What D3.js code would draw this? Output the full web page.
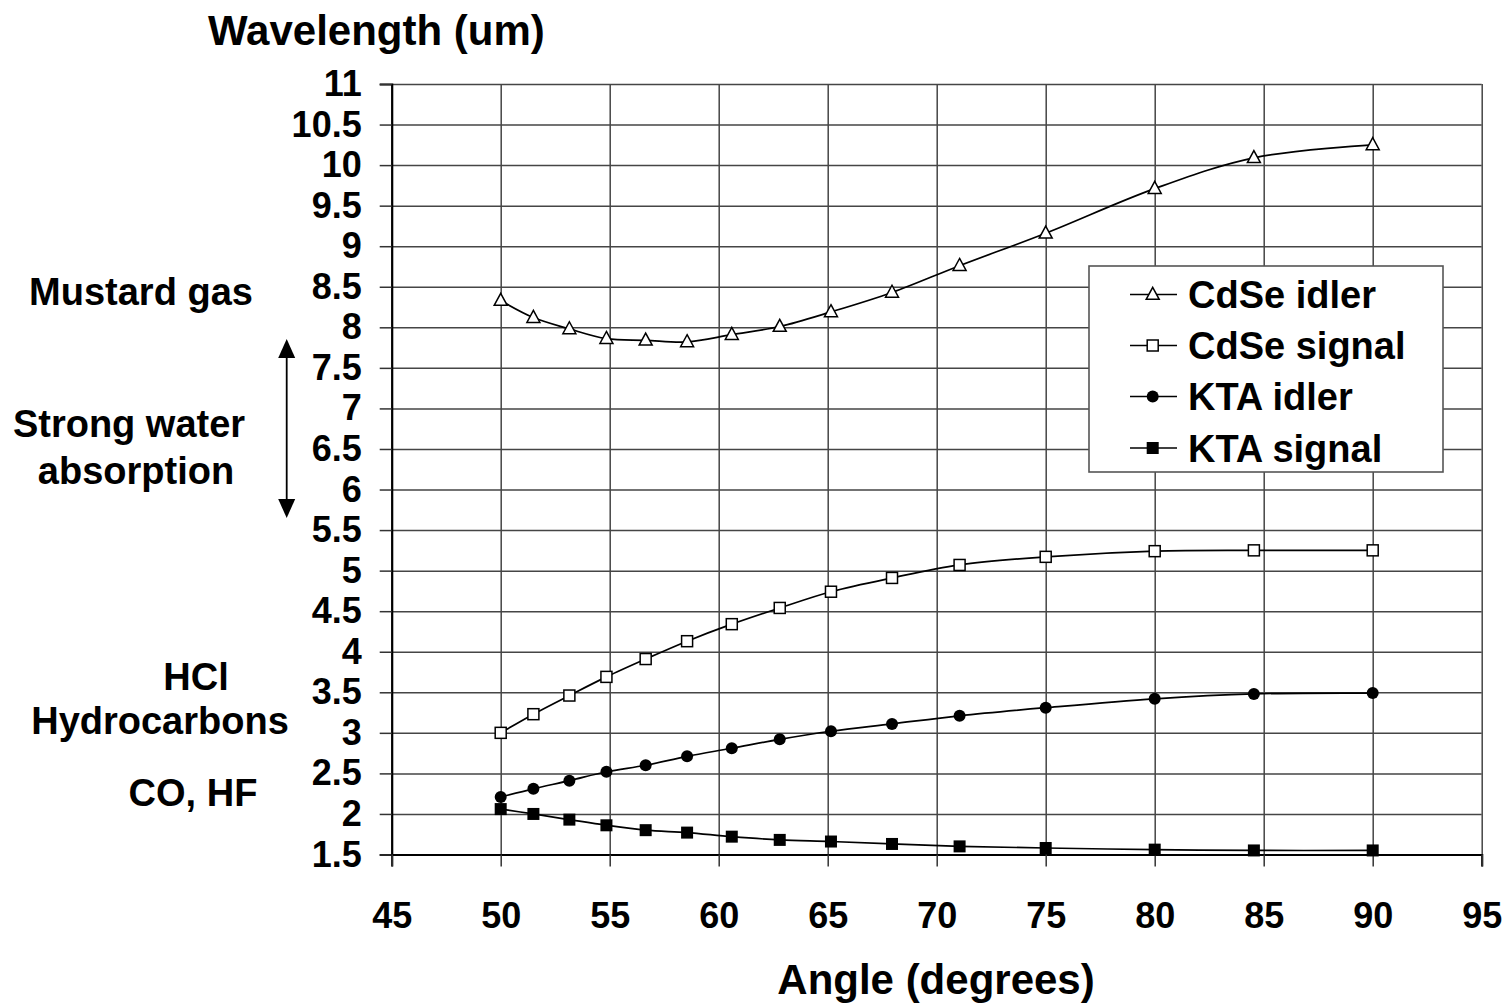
<!DOCTYPE html>
<html>
<head>
<meta charset="utf-8">
<script src="https://cdn.jsdelivr.net/npm/d3@7"></script>
<style>
  html, body { margin: 0; padding: 0; background: #fff; }
  svg { display: block; font-family: "Liberation Sans", Arial, Helvetica, sans-serif; font-weight: bold; }
</style>
</head>
<body>
<svg id="chart" width="1503" height="1003"></svg>
<script>
// Phase-matching angle (degrees)
const angles = [50, 51.5, 53.15, 54.85, 56.65, 58.55, 60.6, 62.8, 65.15, 67.95, 71.05, 75, 80, 84.55, 90];

// Output wavelengths (um)
const cdseIdler  = [8.33, 8.12, 7.98, 7.86, 7.84, 7.82, 7.91, 8.01, 8.19, 8.43, 8.76, 9.16, 9.71, 10.09, 10.25];
const cdseSignal = [3.00, 3.23, 3.46, 3.69, 3.91, 4.13, 4.34, 4.54, 4.74, 4.91, 5.07, 5.17, 5.24, 5.25, 5.25];
const ktaIdler   = [2.21, 2.31, 2.41, 2.52, 2.60, 2.71, 2.81, 2.92, 3.02, 3.11, 3.21, 3.31, 3.42, 3.48, 3.49];
const ktaSignal  = [2.06, 2.00, 1.93, 1.86, 1.80, 1.77, 1.72, 1.68, 1.66, 1.63, 1.60, 1.58, 1.56, 1.55, 1.55];

const seriesNames = ["CdSe idler", "CdSe signal", "KTA idler", "KTA signal"];
const seriesMarkers = ["triangle-open", "square-open", "circle", "square"];

// Axis ticks
const xTicks = [45, 50, 55, 60, 65, 70, 75, 80, 85, 90, 95];
const yTicks = [1.5, 2, 2.5, 3, 3.5, 4, 4.5, 5, 5.5, 6, 6.5, 7, 7.5, 8, 8.5, 9, 9.5, 10, 10.5, 11];

// Absorption-band annotations on the left
const bandLabels = [
  { text: "Mustard gas", x: 141, y: 305 },
  { text: "Strong water", x: 129, y: 437 },
  { text: "absorption", x: 136, y: 484 },
  { text: "HCl", x: 196, y: 690 },
  { text: "Hydrocarbons", x: 160, y: 734 },
  { text: "CO, HF", x: 193, y: 806 }
];

const seriesValues = [cdseIdler, cdseSignal, ktaIdler, ktaSignal];
const series = seriesNames.map((name, i) => ({
  name,
  marker: seriesMarkers[i],
  points: angles.map((a, j) => ({ x: a, y: seriesValues[i][j] }))
}));

const svg = d3.select("#chart");
const plotLeft = 391.7, plotRight = 1481.7, plotTop = 84, plotBottom = 854.5;

const x = d3.scaleLinear().domain([45, 95]).range([plotLeft, plotRight]);
const y = d3.scaleLinear().domain([1.5, 11]).range([plotBottom, plotTop]);

const gridColor = "#454545";

// Horizontal grid lines
svg.append("g")
  .attr("transform", `translate(${plotLeft},0)`)
  .call(d3.axisLeft(y).tickValues(yTicks).tickSize(-(plotRight - plotLeft)).tickFormat(""))
  .call(g => g.select(".domain").remove())
  .call(g => g.selectAll("line").attr("stroke", gridColor).attr("stroke-width", 1.5));

// Vertical grid lines
svg.append("g")
  .attr("transform", `translate(0,${plotBottom})`)
  .call(d3.axisBottom(x).tickValues(xTicks).tickSize(-(plotBottom - plotTop)).tickFormat(""))
  .call(g => g.select(".domain").remove())
  .call(g => g.selectAll("line").attr("stroke", gridColor).attr("stroke-width", 1.5));

// Y axis with labels
svg.append("g")
  .attr("transform", `translate(${plotLeft},0)`)
  .call(d3.axisLeft(y).tickValues(yTicks).tickSize(12).tickPadding(18)
    .tickFormat(d => String(d)))
  .call(g => g.select(".domain").attr("stroke", "#000").attr("stroke-width", 2.2))
  .call(g => g.selectAll(".tick line").attr("stroke", "#333").attr("stroke-width", 1.5))
  .call(g => g.selectAll("text")
    .attr("font-family", "Liberation Sans, Arial, sans-serif")
    .attr("font-weight", "bold").attr("font-size", 36).attr("fill", "#000"));

// X axis with labels
svg.append("g")
  .attr("transform", `translate(0,${plotBottom})`)
  .call(d3.axisBottom(x).tickValues(xTicks).tickSize(12).tickPadding(36)
    .tickFormat(d => String(d)))
  .call(g => g.select(".domain").attr("stroke", "#000").attr("stroke-width", 2.2))
  .call(g => g.selectAll(".tick line").attr("stroke", "#333").attr("stroke-width", 1.5))
  .call(g => g.selectAll("text")
    .attr("font-family", "Liberation Sans, Arial, sans-serif")
    .attr("font-weight", "bold").attr("font-size", 36).attr("fill", "#000"));

// Axis titles
svg.append("text")
  .attr("x", 208).attr("y", 45)
  .attr("font-size", 42)
  .text("Wavelength (um)");

svg.append("text")
  .attr("x", 936).attr("y", 994)
  .attr("text-anchor", "middle")
  .attr("font-size", 42)
  .text("Angle (degrees)");

// Curves
const line = d3.line()
  .x(d => x(d.x))
  .y(d => y(d.y))
  .curve(d3.curveCatmullRom.alpha(0.5));

const plot = svg.append("g");
series.forEach(s => {
  plot.append("path")
    .datum(s.points)
    .attr("fill", "none")
    .attr("stroke", "#000")
    .attr("stroke-width", 1.7)
    .attr("d", line);
});

// Marker drawing
function drawMarker(g, type, cx, cy) {
  if (type === "triangle-open") {
    const h = 12, w = 13;
    g.append("path")
      .attr("d", `M${cx},${cy - h * 0.6} L${cx + w / 2},${cy + h * 0.4} L${cx - w / 2},${cy + h * 0.4} Z`)
      .attr("fill", "#fff").attr("stroke", "#000").attr("stroke-width", 1.5);
  } else if (type === "square-open") {
    g.append("rect").attr("x", cx - 5.5).attr("y", cy - 5.5).attr("width", 11).attr("height", 11)
      .attr("fill", "#fff").attr("stroke", "#000").attr("stroke-width", 1.5);
  } else if (type === "circle") {
    g.append("circle").attr("cx", cx).attr("cy", cy).attr("r", 6).attr("fill", "#000");
  } else if (type === "square") {
    g.append("rect").attr("x", cx - 6).attr("y", cy - 6).attr("width", 12).attr("height", 12)
      .attr("fill", "#000");
  }
}

series.forEach(s => {
  const g = plot.append("g");
  s.points.forEach(p => drawMarker(g, s.marker, x(p.x), y(p.y)));
});

// Legend
const legend = svg.append("g");
legend.append("rect")
  .attr("x", 1089).attr("y", 266).attr("width", 354).attr("height", 206)
  .attr("fill", "#fff").attr("stroke", "#555").attr("stroke-width", 1.6);
const rowY = [294.5, 345.5, 396.5, 448];
series.forEach((s, i) => {
  const ry = rowY[i];
  legend.append("line").attr("x1", 1130).attr("x2", 1177).attr("y1", ry).attr("y2", ry)
    .attr("stroke", "#000").attr("stroke-width", 1.7);
  drawMarker(legend, s.marker, 1152.7, ry);
  legend.append("text").attr("x", 1188).attr("y", ry + 13.5)
    .attr("font-size", 38).text(s.name);
});

// Band annotations
bandLabels.forEach(b => {
  svg.append("text").attr("x", b.x).attr("y", b.y)
    .attr("text-anchor", "middle").attr("font-size", 38).text(b.text);
});

// Double-headed arrow for the water absorption band
const ax = 286.7, ayTop = 339, ayBot = 518;
svg.append("line").attr("x1", ax).attr("x2", ax).attr("y1", ayTop + 14).attr("y2", ayBot - 14)
  .attr("stroke", "#000").attr("stroke-width", 1.8);
svg.append("path")
  .attr("d", `M${ax},${ayTop} L${ax - 8.5},${ayTop + 19} L${ax + 8.5},${ayTop + 19} Z`)
  .attr("fill", "#000");
svg.append("path")
  .attr("d", `M${ax},${ayBot} L${ax - 8.5},${ayBot - 19} L${ax + 8.5},${ayBot - 19} Z`)
  .attr("fill", "#000");
</script>
</body>
</html>
